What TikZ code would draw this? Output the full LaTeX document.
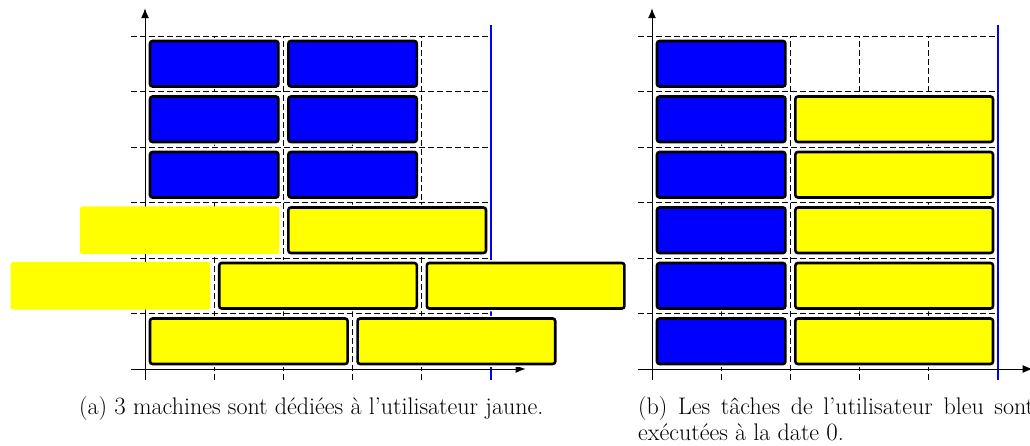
\documentclass[tikz,border=0pt]{standalone}
\usetikzlibrary{arrows.meta}
\definecolor{pureyellow}{RGB}{255,255,0}
\definecolor{pureblue}{RGB}{0,0,255}
\begin{document}
\begin{tikzpicture}[x=1pt,y=-1pt,
  gridline/.style={line width=0.8pt, dash pattern=on 6pt off 3pt},
  axisline/.style={line width=1pt,-{Latex[length=10pt,width=8pt]}},
  limitline/.style={draw=pureblue, line width=1.3pt},
  halo/.style={preaction={draw=white, line width=5.5pt, rounded corners=2.5pt}},
  bluebox/.style={halo, fill=pureblue, draw=black, line width=2.6pt, rounded corners=2.5pt},
  yellowbox/.style={halo, fill=pureyellow, draw=black, line width=2.6pt, rounded corners=2.5pt},
  plainyellow/.style={fill=pureyellow, rounded corners=2.5pt},
  captext/.style={font=\fontsize{24}{29}\selectfont, anchor=base west, inner sep=0pt}
]
\useasboundingbox (0,0) rectangle (1030,446);

% ---------- chart (a) ----------
\begin{scope}[shift={(145,369)}, x=69.2pt, y=55.5pt]
  \foreach \r in {1,...,6} \draw[gridline] (-0.2,\r) -- (5,\r);
  \foreach \c in {1,...,4} \draw[gridline] (\c,-0.2) -- (\c,6);
  \draw[limitline] (5,-0.2) -- (5,6.2);
  \draw[axisline] (-0.2,0) -- (5.5,0);
  \draw[axisline] (0,-0.2) -- (0,6.5);
  % row 0
  \path[yellowbox] ([xshift=5pt,yshift=5pt]0,0) rectangle ([xshift=-5pt,yshift=-5pt]3,1);
  \path[yellowbox] ([xshift=5pt,yshift=5pt]3,0) rectangle ([xshift=-5pt,yshift=-5pt]6,1);
  % row 1
  \path[plainyellow] ([xshift=4pt,yshift=4pt]-2,1) rectangle ([xshift=-4pt,yshift=-4pt]1,2);
  \path[yellowbox] ([xshift=5pt,yshift=5pt]1,1) rectangle ([xshift=-5pt,yshift=-5pt]4,2);
  \path[yellowbox] ([xshift=5pt,yshift=5pt]4,1) rectangle ([xshift=-5pt,yshift=-5pt]7,2);
  % row 2
  \path[plainyellow] ([xshift=4pt,yshift=4pt]-1,2) rectangle ([xshift=-4pt,yshift=-4pt]2,3);
  \path[yellowbox] ([xshift=5pt,yshift=5pt]2,2) rectangle ([xshift=-5pt,yshift=-5pt]5,3);
  % rows 3-5
  \foreach \r in {3,4,5} {
    \path[bluebox] ([xshift=5pt,yshift=5pt]0,\r) rectangle ([xshift=-5pt,yshift=-5pt]2,\r+1);
    \path[bluebox] ([xshift=5pt,yshift=5pt]2,\r) rectangle ([xshift=-5pt,yshift=-5pt]4,\r+1);
  }
\end{scope}

% ---------- chart (b) ----------
\begin{scope}[shift={(652,369)}, x=69.2pt, y=55.5pt]
  \foreach \r in {1,...,6} \draw[gridline] (-0.2,\r) -- (5,\r);
  \foreach \c in {1,...,4} \draw[gridline] (\c,-0.2) -- (\c,6);
  \draw[limitline] (5,-0.2) -- (5,6.2);
  \draw[axisline] (-0.2,0) -- (5.5,0);
  \draw[axisline] (0,-0.2) -- (0,6.5);
  \foreach \r in {0,...,4} {
    \path[bluebox] ([xshift=5pt,yshift=5pt]0,\r) rectangle ([xshift=-5pt,yshift=-5pt]2,\r+1);
    \path[yellowbox] ([xshift=5pt,yshift=5pt]2,\r) rectangle ([xshift=-5pt,yshift=-5pt]5,\r+1);
  }
  \path[bluebox] ([xshift=5pt,yshift=5pt]0,5) rectangle ([xshift=-5pt,yshift=-5pt]2,6);
\end{scope}

% ---------- captions ----------
\node[captext] (capa) at (79,414) {(a) $3$ machines sont dédiées à l'utilisateur jaune.};
\node[captext] (capb1) at (638,414) {\makebox[396pt][s]{(b) Les tâches de l'utilisateur bleu sont}};
\node[captext] (capb2) at (638,440) {exécutées à la date $0$.};
\end{tikzpicture}
\end{document}
